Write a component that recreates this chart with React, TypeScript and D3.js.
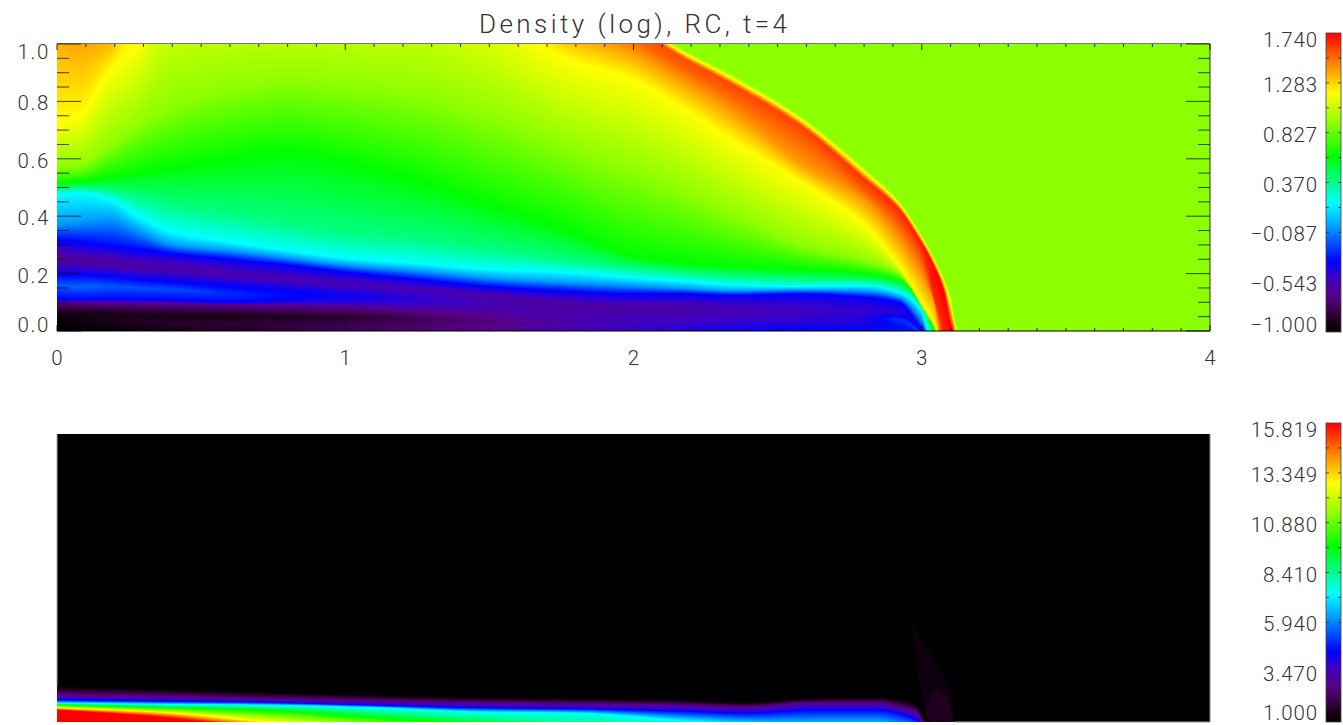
import React, { useMemo } from 'react';
import * as d3 from 'd3';

// colour table (IDL rainbow), position on the colour bar 0..1
const CMAP_POS = [0, 0.04, 0.08, 0.12, 0.18, 0.235, 0.33, 0.43, 0.51, 0.59, 0.695, 0.8, 0.9, 1];
const CMAP_COL = ['#000000', '#200020', '#400058', '#580088', '#4000c0', '#0000ff', '#0080ff', '#00ffff', '#00ff80', '#00ff00', '#8cff00', '#ffff00', '#ff8000', '#ff0000'];

const X_LABELS = [0, 1, 2, 3, 4];
const Y_LABELS = ['0.0', '0.2', '0.4', '0.6', '0.8', '1.0'];
const Y_LABEL_SHIFT = [1, 9, 9, 9, 9, 15];
const BAR1_LABELS = ['-1.000', '-0.543', '-0.087', '0.370', '0.827', '1.283', '1.740'];
const BAR2_LABELS = ['1.000', '3.470', '5.940', '8.410', '10.880', '13.349', '15.819'];
const BAR_LABEL_SHIFT = [0, 9, 9, 9, 9, 9, 14];

// top panel: contour heights read at these x stations
const XS = [0, 0.08, 0.18, 0.28, 0.4, 0.6, 0.8, 1, 1.25, 1.5, 1.75, 2, 2.15, 2.35, 2.58, 2.8, 2.92, 3, 3.02, 3.04, 3.06, 3.08, 3.1, 3.115, 3.14, 4];
const SHOCK_Y = [1.4, 1.3, 1.3, 1.9, 2, 2.1, 2.1, 2.1, 2, 1.75, 1.32, 1.1, 0.995, 0.89, 0.75, 0.57, 0.455, 0.335, 0.3, 0.262, 0.222, 0.18, 0.13, 0.04, -0.05, -0.05];
const PEAK_Y = [1.3, 1.2, 1.2, 1.8, 1.9, 2, 2, 2, 1.9, 1.65, 1.25, 1.06, 0.965, 0.855, 0.715, 0.53, 0.425, 0.305, 0.27, 0.23, 0.185, 0.125, 0.02, -0.02, -0.06, -0.06];
const PEAK_T = [0.94, 0.94, 0.94, 0.94, 0.94, 0.94, 0.94, 0.94, 0.94, 0.94, 0.94, 0.94, 0.94, 0.945, 0.95, 0.96, 0.97, 0.985, 0.99, 0.995, 1, 1, 1, 1, 1, 1];
const INNER_Y = [1.2, 1.12, 1.12, 1.6, 1.7, 1.8, 1.8, 1.8, 1.75, 1.55, 1.15, 1.02, 0.93, 0.815, 0.67, 0.49, 0.385, 0.265, 0.205, 0.125, 0.065, -0.03, -0.1, -0.1, -0.1, -0.1];
const INNER_T = [0.925, 0.925, 0.925, 0.925, 0.925, 0.925, 0.925, 0.925, 0.925, 0.925, 0.925, 0.925, 0.925, 0.925, 0.925, 0.93, 0.94, 0.95, 0.96, 0.97, 0.97, 0.97, 0.97, 0.97, 0.97, 0.97];
const ORANGE_Y = [1.08, 1.04, 1.03, 1.5, 1.6, 1.7, 1.7, 1.7, 1.6, 1.45, 1.07, 0.97, 0.885, 0.76, 0.585, 0.455, 0.32, 0.19, 0.15, 0.108, -0.005, -0.15, -0.2, -0.2, -0.2, -0.2];
const YELLOW_Y = [0.72, 0.75, 0.905, 1, 1.25, 1.26, 1.22, 1.24, 1.25, 1.13, 0.955, 0.875, 0.79, 0.66, 0.52, 0.37, 0.225, 0.097, 0.065, 0.03, -0.03, -0.2, -0.3, -0.3, -0.3, -0.3];
const LIME_Y = [0.57, 0.575, 0.64, 0.71, 0.78, 0.84, 0.865, 0.85, 0.815, 0.74, 0.645, 0.55, 0.49, 0.4, 0.3, 0.245, 0.2, 0.085, 0.05, 0.02, -0.04, -0.3, -0.4, -0.4, -0.4, -0.4];
const GREEN_Y = [0.515, 0.52, 0.535, 0.55, 0.57, 0.6, 0.625, 0.59, 0.525, 0.44, 0.36, 0.26, 0.24, 0.225, 0.215, 0.2, 0.178, 0.105, 0.07, 0.012, -0.05, -0.4, -0.5, -0.5, -0.5, -0.5];
const SPRING_Y = [0.495, 0.5, 0.49, 0.47, 0.44, 0.41, 0.375, 0.345, 0.32, 0.285, 0.25, 0.22, 0.205, 0.19, 0.18, 0.175, 0.155, 0.085, 0.04, -0.02, -0.06, -0.45, -0.55, -0.55, -0.55, -0.55];
const CYAN_Y = [0.475, 0.48, 0.46, 0.4, 0.345, 0.31, 0.28, 0.254, 0.235, 0.215, 0.205, 0.185, 0.175, 0.16, 0.155, 0.158, 0.135, 0.07, 0, -0.03, -0.07, -0.5, -0.6, -0.6, -0.6, -0.6];
const AZURE_Y = [0.37, 0.38, 0.39, 0.35, 0.3, 0.28, 0.255, 0.23, 0.21, 0.185, 0.17, 0.158, 0.15, 0.14, 0.143, 0.14, 0.118, 0.04, -0.01, -0.04, -0.08, -0.55, -0.65, -0.65, -0.65, -0.65];
const BLUE_Y = [0.32, 0.31, 0.295, 0.285, 0.27, 0.25, 0.23, 0.206, 0.18, 0.155, 0.14, 0.13, 0.13, 0.125, 0.13, 0.118, 0.1, 0.005, -0.02, -0.05, -0.09, -0.6, -0.7, -0.7, -0.7, -0.7];
const INDIGO_Y = [0.25, 0.245, 0.24, 0.225, 0.22, 0.2, 0.18, 0.165, 0.145, 0.12, 0.095, 0.08, 0.08, 0.08, 0.08, 0.075, 0.065, 0, -0.03, -0.06, -0.1, -0.65, -0.75, -0.75, -0.75, -0.75];
const INDIGO_T = [0.13, 0.14, 0.14, 0.15, 0.15, 0.155, 0.16, 0.165, 0.165, 0.15, 0.145, 0.145, 0.15, 0.165, 0.18, 0.19, 0.2, 0.22, 0.22, 0.22, 0.22, 0.22, 0.22, 0.22, 0.22, 0.22];
const BAND_TOP_Y = [0.195, 0.195, 0.19, 0.18, 0.17, 0.155, 0.14, 0.125, 0.115, 0.1, 0.085, 0.07, 0.07, 0.07, 0.068, 0.065, 0.055, -0.005, -0.035, -0.07, -0.11, -0.7, -0.8, -0.8, -0.8, -0.8];
const BAND_TOP_T = [0.235, 0.235, 0.235, 0.235, 0.235, 0.235, 0.235, 0.225, 0.2, 0.17, 0.15, 0.15, 0.155, 0.17, 0.185, 0.195, 0.22, 0.25, 0.25, 0.25, 0.25, 0.25, 0.25, 0.25, 0.25, 0.25];
const BAND_MID_Y = [0.16, 0.155, 0.155, 0.15, 0.145, 0.13, 0.12, 0.112, 0.105, 0.09, 0.075, 0.06, 0.055, 0.05, 0.05, 0.045, 0.04, -0.01, -0.04, -0.08, -0.12, -0.75, -0.85, -0.85, -0.85, -0.85];
const BAND_MID_T = [0.3, 0.31, 0.3, 0.295, 0.29, 0.265, 0.24, 0.22, 0.195, 0.165, 0.155, 0.165, 0.17, 0.18, 0.19, 0.205, 0.27, 0.28, 0.28, 0.28, 0.28, 0.28, 0.28, 0.28, 0.28, 0.28];
const BAND_LOW_Y = [0.11, 0.11, 0.11, 0.11, 0.108, 0.1, 0.1, 0.095, 0.085, 0.07, 0.05, 0.04, 0.038, 0.035, 0.03, 0.03, 0.025, -0.015, -0.045, -0.09, -0.13, -0.8, -0.9, -0.9, -0.9, -0.9];
const BAND_LOW_T = [0.235, 0.235, 0.235, 0.235, 0.235, 0.235, 0.21, 0.19, 0.17, 0.155, 0.16, 0.175, 0.18, 0.19, 0.2, 0.21, 0.25, 0.26, 0.26, 0.26, 0.26, 0.26, 0.26, 0.26, 0.26, 0.26];
const PURPLE_Y = [0.098, 0.097, 0.095, 0.092, 0.09, 0.088, 0.085, 0.08, 0.07, 0.055, 0.035, 0.025, 0.022, 0.02, 0.018, 0.017, 0.015, -0.02, -0.05, -0.1, -0.14, -0.85, -0.95, -0.95, -0.95, -0.95];
const PURPLE_T = [0.11, 0.11, 0.11, 0.11, 0.11, 0.11, 0.11, 0.11, 0.12, 0.13, 0.15, 0.175, 0.185, 0.2, 0.215, 0.22, 0.24, 0.25, 0.25, 0.25, 0.25, 0.25, 0.25, 0.25, 0.25, 0.25];
const DARK_Y = [0.065, 0.063, 0.06, 0.058, 0.056, 0.053, 0.05, 0.05, 0.045, 0.035, 0.02, 0.012, 0.011, 0.01, 0.009, 0.008, 0.007, -0.03, -0.06, -0.11, -0.15, -0.9, -1, -1, -1, -1];
const DARK_T = [0.03, 0.03, 0.03, 0.03, 0.03, 0.03, 0.04, 0.05, 0.08, 0.11, 0.15, 0.185, 0.2, 0.215, 0.235, 0.24, 0.245, 0.25, 0.25, 0.25, 0.25, 0.25, 0.25, 0.25, 0.25, 0.25];
const LAYER_Y = [0.035, 0.03, 0.03, 0.028, 0.025, 0.025, 0.025, 0.025, 0.02, 0.015, 0.01, 0.005, 0.004, 0.003, 0.003, 0.003, 0.003, -0.04, -0.07, -0.12, -0.16, -0.95, -1.05, -1.05, -1.05, -1.05];
const LAYER_T = [0, 0.015, 0.03, 0.04, 0.05, 0.055, 0.06, 0.07, 0.09, 0.12, 0.16, 0.19, 0.2, 0.22, 0.24, 0.24, 0.25, 0.25, 0.25, 0.25, 0.25, 0.25, 0.25, 0.25, 0.25, 0.25];
const FLOOR_Y = [0, 0, 0, 0, 0, 0, 0, 0, 0, 0, 0, 0, 0, 0, 0, 0, 0, -0.05, -0.08, -0.13, -0.17, -1, -1.1, -1.1, -1.1, -1.1];
const FLOOR_T = [0, 0, 0, 0.01, 0.025, 0.04, 0.06, 0.08, 0.1, 0.13, 0.165, 0.2, 0.21, 0.225, 0.24, 0.24, 0.25, 0.25, 0.25, 0.25, 0.25, 0.25, 0.25, 0.25, 0.25, 0.25];

// bottom panel: contour heights at its own stations
const XS2 = [0, 0.35, 0.7, 1.1, 1.47, 1.81, 2.16, 2.39, 2.62, 2.85, 2.92, 2.98, 3.02, 4];
const P2_FADE_Y = [0.125, 0.115, 0.105, 0.095, 0.087, 0.083, 0.076, 0.069, 0.083, 0.087, 0.08, 0.06, 0, -0.1];
const P2_PURPLE_Y = [0.094, 0.088, 0.08, 0.073, 0.066, 0.062, 0.059, 0.052, 0.066, 0.066, 0.05, 0.035, -0.02, -0.2];
const P2_BLUE_Y = [0.076, 0.072, 0.068, 0.058, 0.049, 0.045, 0.038, 0.031, 0.042, 0.042, 0.03, 0.006, -0.03, -0.3];
const P2_CYAN_Y = [0.066, 0.062, 0.059, 0.05, 0.035, 0.031, 0.005, -0.01, -0.02, -0.02, -0.03, -0.03, -0.05, -0.4];
const P2_GREEN_Y = [0.059, 0.05, 0.042, 0.015, -0.01, -0.04, -0.06, -0.06, -0.07, -0.07, -0.07, -0.07, -0.08, -0.5];
const P2_YELLOW_Y = [0.049, 0.035, 0.003, -0.03, -0.05, -0.08, -0.1, -0.1, -0.1, -0.1, -0.1, -0.1, -0.1, -0.6];
const P2_RED_Y = [0.042, 0.018, -0.02, -0.05, -0.08, -0.12, -0.15, -0.15, -0.15, -0.15, -0.15, -0.15, -0.15, -0.7];

// faint wake behind the shock in the bottom panel
const WAKE_X = [2.966, 2.985, 3.005, 3.03, 3.05, 3.075, 3.1, 3.115];
const WAKE_TOP = [0.347, 0.31, 0.275, 0.24, 0.205, 0.155, 0.1, 0];
const WAKE_LOW = [0.347, 0.19, 0.076, 0, 0, 0, 0, 0];
const BLOB_X = [3.01, 3.03, 3.05, 3.075, 3.1, 3.112];
const BLOB_TOP = [0.03, 0.08, 0.115, 0.1, 0.05, 0];
const BLOB_LOW = [0.03, 0, 0, 0, 0, 0];

const cmap = d3.scaleLinear<string>().domain(CMAP_POS).range(CMAP_COL).interpolate(d3.interpolateRgb).clamp(true);

const xScale = d3.scaleLinear().domain([0, 4]).range([57, 1210]);
const y1Scale = d3.scaleLinear().domain([0, 1]).range([331, 44]);
const y2Scale = d3.scaleLinear().domain([0, 1]).range([722, 434]);
const bar1 = d3.scaleLinear().domain([0, 1]).range([332, 33]);
const bar2 = d3.scaleLinear().domain([0, 1]).range([722, 423]);

// monotone cubic through the stations
function pchip(xs: number[], ys: number[]) {
  const n = xs.length;
  const h = d3.range(n - 1).map((i) => xs[i + 1] - xs[i]);
  const d = h.map((w, i) => (ys[i + 1] - ys[i]) / w);
  const m = xs.map((_, i) => {
    if (i === 0) return d[0];
    if (i === n - 1) return d[n - 2];
    if (d[i - 1] * d[i] <= 0) return 0;
    const a = 2 * h[i] + h[i - 1];
    const b = h[i] + 2 * h[i - 1];
    return (a + b) / (a / d[i - 1] + b / d[i]);
  });
  return (x: number) => {
    const i = Math.max(0, Math.min(n - 2, d3.bisectRight(xs, x) - 1));
    const s = (x - xs[i]) / h[i];
    const s2 = s * s;
    const s3 = s2 * s;
    return (2 * s3 - 3 * s2 + 1) * ys[i] + (s3 - 2 * s2 + s) * h[i] * m[i] + (-2 * s3 + 3 * s2) * ys[i + 1] + (s3 - s2) * h[i] * m[i + 1];
  };
}

type Layer = { y: number[]; t: number | number[] };

const P1_LAYERS: Layer[] = [
  { y: SHOCK_Y, t: 0.695 },
  { y: PEAK_Y, t: PEAK_T },
  { y: INNER_Y, t: INNER_T },
  { y: ORANGE_Y, t: 0.88 },
  { y: YELLOW_Y, t: 0.8 },
  { y: LIME_Y, t: 0.695 },
  { y: GREEN_Y, t: 0.59 },
  { y: SPRING_Y, t: 0.51 },
  { y: CYAN_Y, t: 0.43 },
  { y: AZURE_Y, t: 0.35 },
  { y: BLUE_Y, t: 0.235 },
  { y: INDIGO_Y, t: INDIGO_T },
  { y: BAND_TOP_Y, t: BAND_TOP_T },
  { y: BAND_MID_Y, t: BAND_MID_T },
  { y: BAND_LOW_Y, t: BAND_LOW_T },
  { y: PURPLE_Y, t: PURPLE_T },
  { y: DARK_Y, t: DARK_T },
  { y: LAYER_Y, t: LAYER_T },
  { y: FLOOR_Y, t: FLOOR_T },
];

const P2_LAYERS: Layer[] = [
  { y: P2_FADE_Y, t: 0 },
  { y: P2_PURPLE_Y, t: 0.12 },
  { y: P2_BLUE_Y, t: 0.235 },
  { y: P2_CYAN_Y, t: 0.43 },
  { y: P2_GREEN_Y, t: 0.59 },
  { y: P2_YELLOW_Y, t: 0.8 },
  { y: P2_RED_Y, t: 1 },
];

// one vertical gradient per pixel column, y runs -1.2..2.4 so no stop falls off the ends
const GRAD_TOP = 2.4;
const GRAD_BOT = -1.2;

function buildColumns(stations: number[], layers: Layer[], xEnd: number) {
  const fy = layers.map((l) => pchip(stations, l.y));
  const ft = layers.map((l) => (typeof l.t === 'number' ? () => l.t as number : pchip(stations, l.t as number[])));
  const columns: { px: number; stops: { o: number; c: string }[] }[] = [];
  const [p0, p1] = xScale.range();
  for (let px = p0; px < p1; px++) {
    const x = xScale.invert(px + 0.5);
    if (x > xEnd) break;
    const ys = fy.map((f) => f(x));
    const ts = ft.map((f) => f(x) as number);
    for (let k = 1; k < ys.length; k++) ys[k] = Math.min(ys[k], ys[k - 1]);
    const pts: [number, number][] = [];
    ys.forEach((y, k) => {
      pts.push([y, ts[k]]);
      if (k < ys.length - 1) {
        const lo = Math.min(ts[k], ts[k + 1]);
        const hi = Math.max(ts[k], ts[k + 1]);
        const inner = CMAP_POS.filter((p) => p > lo && p < hi);
        if (ts[k] > ts[k + 1]) inner.reverse();
        inner.forEach((p) => pts.push([ys[k] + ((p - ts[k]) / (ts[k + 1] - ts[k])) * (ys[k + 1] - ys[k]), p]));
      }
    });
    // keep only what the plot shows plus one stop either side
    const kept = pts.filter((p, i) => {
      const prev = pts[i - 1];
      const next = pts[i + 1];
      if (p[0] > 1 && next && next[0] > 1) return false;
      if (p[0] < 0 && prev && prev[0] < 0) return false;
      return true;
    });
    columns.push({
      px,
      stops: kept.map(([y, t]) => ({ o: (GRAD_TOP - y) / (GRAD_TOP - GRAD_BOT), c: cmap(t) })),
    });
  }
  return columns;
}

const labelStyle = { fontFamily: 'Roboto, "Open Sans", sans-serif', fontWeight: 300, fill: '#333', fontSize: 20.5 };

function Field({ id, columns, y, bg }: { id: string; columns: ReturnType<typeof buildColumns>; y: d3.ScaleLinear<number, number>; bg: string }) {
  const [x0, x1] = xScale.range();
  return (
    <g>
      <rect x={x0} y={y(1)} width={x1 - x0} height={y(0) - y(1)} fill={bg} />
      <defs>
        {columns.map((c) => (
          <linearGradient key={c.px} id={`${id}${c.px}`} gradientUnits="userSpaceOnUse" x1={0} x2={0} y1={y(GRAD_TOP)} y2={y(GRAD_BOT)}>
            {c.stops.map((s, i) => (
              <stop key={i} offset={s.o} stopColor={s.c} />
            ))}
          </linearGradient>
        ))}
      </defs>
      {columns.map((c) => (
        <rect key={c.px} x={c.px} y={y(1)} width={1} height={y(0) - y(1)} fill={`url(#${id}${c.px})`} shapeRendering="crispEdges" />
      ))}
    </g>
  );
}

function ColorBar({ y, labels }: { y: d3.ScaleLinear<number, number>; labels: string[] }) {
  const id = labels[0] === '1.000' ? 'bar2' : 'bar1';
  const ticks = d3.range(1, 12).map((i) => i / 12);
  return (
    <g>
      <defs>
        <linearGradient id={id} x1={0} x2={0} y1={1} y2={0}>
          {CMAP_POS.map((p, i) => (
            <stop key={i} offset={p} stopColor={CMAP_COL[i]} />
          ))}
        </linearGradient>
      </defs>
      <rect x={1326} y={y(1)} width={15} height={y(0) - y(1)} fill={`url(#${id})`} stroke="#444" strokeWidth={0.8} />
      {ticks.map((t) => (
        <g key={t} stroke="#222" strokeWidth={0.8}>
          <line x1={1326} x2={1329} y1={y(t)} y2={y(t)} />
          <line x1={1338} x2={1341} y1={y(t)} y2={y(t)} />
        </g>
      ))}
      {labels.map((l, i) => (
        // the lowest label of the bottom bar sits against the page edge
        <text key={l} x={1318} y={Math.min(y(i / 6) + BAR_LABEL_SHIFT[i], 720)} textAnchor="end" style={{ ...labelStyle, letterSpacing: 0.9 }}>
          {l.replace('-', '\u2212')}
        </text>
      ))}
    </g>
  );
}

export default function App() {
  const cols1 = useMemo(() => buildColumns(XS, P1_LAYERS, 3.14), []);
  const cols2 = useMemo(() => buildColumns(XS2, P2_LAYERS, 3.02), []);
  const [x0, x1] = xScale.range();
  const wake = d3.area<number>().x((d) => xScale(WAKE_X[d])).y0((d) => y2Scale(WAKE_LOW[d])).y1((d) => y2Scale(WAKE_TOP[d])).curve(d3.curveMonotoneX);
  const blob = d3.area<number>().x((d) => xScale(BLOB_X[d])).y0((d) => y2Scale(BLOB_LOW[d])).y1((d) => y2Scale(BLOB_TOP[d])).curve(d3.curveMonotoneX);
  const minorX = d3.range(0, 41).map((i) => i / 10);
  const minorY = d3.range(0, 21).map((i) => i / 20);
  return (
    <svg width={1343} height={725} style={{ position: 'absolute', left: 0, top: 0, background: '#fff' }}>
      <text x={633} y={33} textAnchor="middle" textLength={308} style={{ ...labelStyle, fontSize: 26 }}>
        Density (log), RC, t=4
      </text>

      {/* top panel */}
      <Field id="a" columns={cols1} y={y1Scale} bg={cmap(0.695)} />
      <line x1={x0} x2={x1} y1={y1Scale(1) - 0.5} y2={y1Scale(1) - 0.5} stroke="#777" strokeWidth={1.2} />
      <line x1={x0} x2={x1} y1={y1Scale(0)} y2={y1Scale(0)} stroke="#000" strokeWidth={1.2} />
      <line x1={x1} x2={x1} y1={y1Scale(1)} y2={y1Scale(0)} stroke="#333" strokeWidth={1} />
      {minorX.map((v, i) => {
        const len = i % 10 === 0 ? 6 : 3;
        return (
          <g key={v} stroke="#111" strokeWidth={0.9}>
            <line x1={xScale(v)} x2={xScale(v)} y1={y1Scale(0)} y2={y1Scale(0) - len} />
            <line x1={xScale(v)} x2={xScale(v)} y1={y1Scale(1)} y2={y1Scale(1) + len} />
          </g>
        );
      })}
      {minorY.map((v, i) => {
        const len = i % 4 === 0 ? 24 : 12;
        return (
          <g key={v} stroke="#111" strokeWidth={0.9} opacity={0.85}>
            <line x1={x0} x2={x0 + len} y1={y1Scale(v)} y2={y1Scale(v)} />
            <line x1={x1} x2={x1 - len} y1={y1Scale(v)} y2={y1Scale(v)} />
          </g>
        );
      })}
      {X_LABELS.map((v) => (
        <text key={v} x={xScale(v)} y={365} textAnchor="middle" style={labelStyle}>
          {v}
        </text>
      ))}
      {Y_LABELS.map((l, i) => (
        <text key={l} x={50} y={y1Scale(+l) + Y_LABEL_SHIFT[i]} textAnchor="end" style={{ ...labelStyle, letterSpacing: 1.6 }}>
          {l}
        </text>
      ))}
      <ColorBar y={bar1} labels={BAR1_LABELS} />

      {/* bottom panel */}
      <Field id="b" columns={cols2} y={y2Scale} bg="#000" />
      <path d={wake(d3.range(WAKE_X.length)) ?? ''} fill={cmap(0.018)} />
      <path d={blob(d3.range(BLOB_X.length)) ?? ''} fill={cmap(0.04)} />
      <line x1={x0} x2={x0} y1={y2Scale(1)} y2={686} stroke="#aaa" strokeWidth={1} />
      <line x1={x1} x2={x1} y1={y2Scale(1)} y2={y2Scale(0)} stroke="#888" strokeWidth={1} />
      <line x1={xScale(3.115)} x2={x1} y1={y2Scale(0)} y2={y2Scale(0)} stroke="#999" strokeWidth={1} />
      <ColorBar y={bar2} labels={BAR2_LABELS} />
    </svg>
  );
}
